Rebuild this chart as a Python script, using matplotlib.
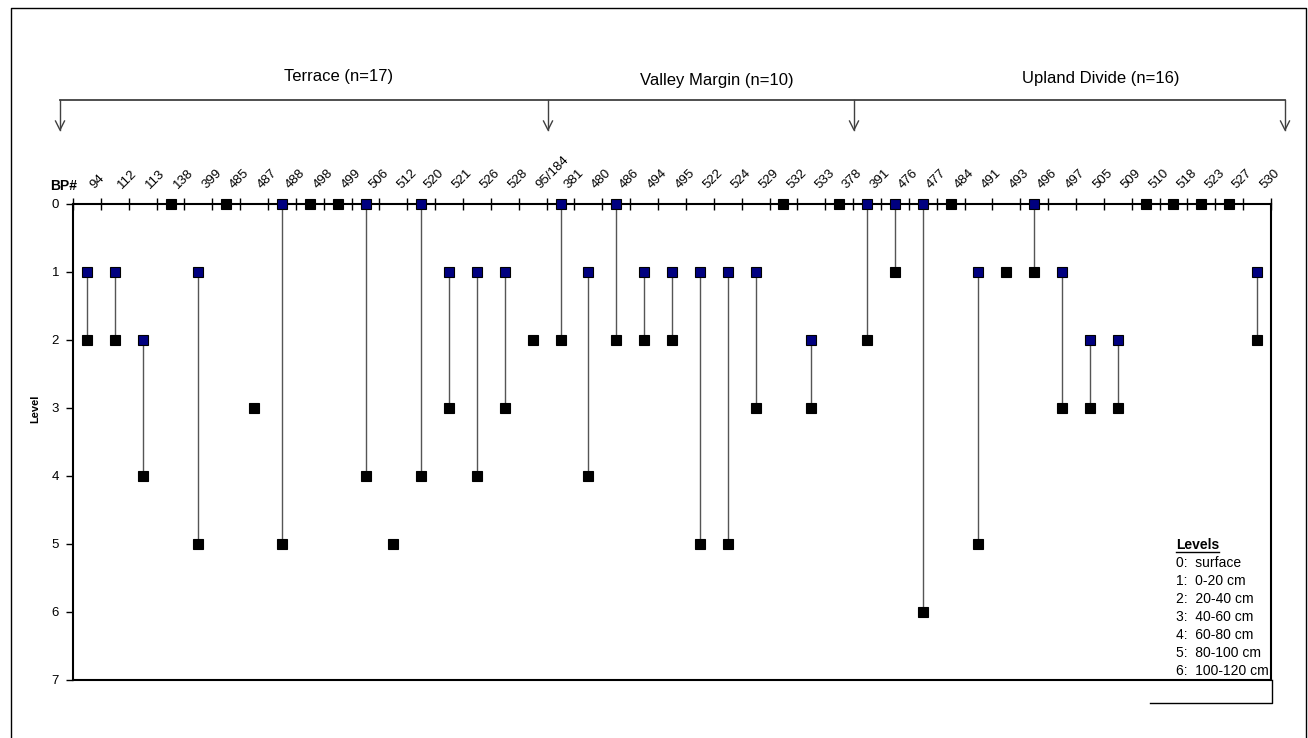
import numpy as np
import matplotlib
matplotlib.use('Agg')
import matplotlib.pyplot as plt
from matplotlib.lines import Line2D

plt.rcParams['font.family'] = ['Liberation Sans', 'DejaVu Sans']

# --- data -------------------------------------------------------------
bp_labels = ['94', '112', '113', '138', '399', '485', '487', '488', '498', '499',
             '506', '512', '520', '521', '526', '528', '95/184',
             '381', '480', '486', '494', '495', '522', '524', '529', '532', '533',
             '378', '391', '476', '477', '484', '491', '493', '496', '497', '505',
             '509', '510', '518', '523', '527', '530']
# upper (blue) and lower (black) level for each borehole; None = no upper point
upper = [1, 1, 2, None, 1, None, None, 0, None, None, 0, None, 0, 1, 1, 1, None,
         0, 1, 0, 1, 1, 1, 1, 1, None, 2,
         None, 0, 0, 0, None, 1, None, 0, 1, 2, 2, None, None, None, None, 1]
lower = [2, 2, 4, 0, 5, 0, 3, 5, 0, 0, 4, 5, 4, 3, 4, 3, 2,
         2, 4, 2, 2, 2, 5, 5, 3, 0, 3,
         0, 2, 1, 6, 0, 5, 1, 1, 3, 3, 3, 0, 0, 0, 0, 2]
groups = ['Terrace', 'Valley Margin', 'Upland Divide']
group_n = [17, 10, 16]
level_names = ['surface', '0-20 cm', '20-40 cm', '40-60 cm', '60-80 cm',
               '80-100 cm', '100-120 cm']

W, H = 1308, 738
fig = plt.figure(figsize=(W / 100, H / 100), dpi=100)


def fx(px):
    return px / W


def fy(py):
    return 1 - py / H


ax = fig.add_axes([fx(73), fy(680), fx(1271) - fx(73), fy(204) - fy(680)])

x = np.arange(len(bp_labels)) + 0.5
up = np.array([np.nan if v is None else v for v in upper], dtype=float)
lo = np.array(lower, dtype=float)

mask = ~np.isnan(up)
ax.vlines(x[mask], up[mask], lo[mask], color='#555555', lw=1, zorder=2)
ax.plot(x, lo, 's', ms=6.8, mfc='black', mec='black', mew=0.8,
        ls='none', clip_on=False, zorder=5)
ax.plot(x, up, 's', ms=6.8, mfc='#000080', mec='black', mew=0.8,
        ls='none', clip_on=False, zorder=6)

ax.set_xlim(0, len(bp_labels))
ax.set_ylim(7, 0)
ax.xaxis.tick_top()
ax.set_xticks(np.arange(len(bp_labels) + 1))
ax.set_xticklabels([])
ax.tick_params(axis='x', direction='inout', length=8, width=1, top=True, bottom=False)
ax.set_yticks(range(8))
ax.tick_params(axis='y', direction='out', length=5, width=1, labelsize=9.5, pad=5)
for s in ax.spines.values():
    s.set_linewidth(1.5)
    s.set_color('black')

for xi, lab in zip(x, bp_labels):
    ax.annotate(lab, xy=(xi, 0), xycoords='data', xytext=(5.5, 10.5),
                textcoords='offset points', rotation=45, rotation_mode='anchor',
                ha='left', va='baseline', fontsize=9.5, annotation_clip=False)

ax.text(-0.0192, 1.029, 'BP#', transform=ax.transAxes, fontsize=10,
        fontweight='bold', ha='left', va='baseline')
ax.set_ylabel('Level', fontsize=8, fontweight='bold')
ax.yaxis.set_label_coords(-0.0275, 0.569)

# --- brackets over the groups ----------------------------------------
br_col = '#404040'
fig.add_artist(Line2D([fx(60), fx(1285)], [fy(100), fy(100)], color=br_col, lw=1.3))
for ax_px in [60, 548, 854, 1285]:
    fig.add_artist(Line2D([fx(ax_px), fx(ax_px)], [fy(100), fy(130)], color=br_col, lw=1))
    fig.add_artist(Line2D([fx(ax_px - 4.5), fx(ax_px), fx(ax_px + 4.5)],
                          [fy(121), fy(130), fy(121)], color=br_col, lw=1))
for (gx, gy), g, n in zip([(339, 76), (717, 80), (1101, 79)], groups, group_n):
    fig.text(fx(gx), fy(gy), f'{g} (n={n})', fontsize=12, ha='center', va='center')

# --- level legend -----------------------------------------------------
leg = fig.text(fx(1176), fy(549), 'Levels', fontsize=10, fontweight='bold',
               ha='left', va='baseline')
for i, name in enumerate(level_names):
    fig.text(fx(1176), fy(567 + 18 * i), f'{i}:  {name}', fontsize=10,
             ha='left', va='baseline')
fig.canvas.draw()
bb = leg.get_window_extent()
fig.add_artist(Line2D([bb.x0 / W, bb.x1 / W], [fy(551.5), fy(551.5)], color='black', lw=1))
fig.add_artist(Line2D([fx(1150), fx(1272), fx(1272)], [fy(703), fy(703), fy(680)],
                      color='black', lw=1))

# --- outer frame --------------------------------------------------------
fig.add_artist(Line2D([fx(11), fx(11), fx(1306), fx(1306)],
                      [0, fy(8), fy(8), 0], color='black', lw=1))

plt.savefig('out.png', dpi=100)
print('Saved: out.png')
